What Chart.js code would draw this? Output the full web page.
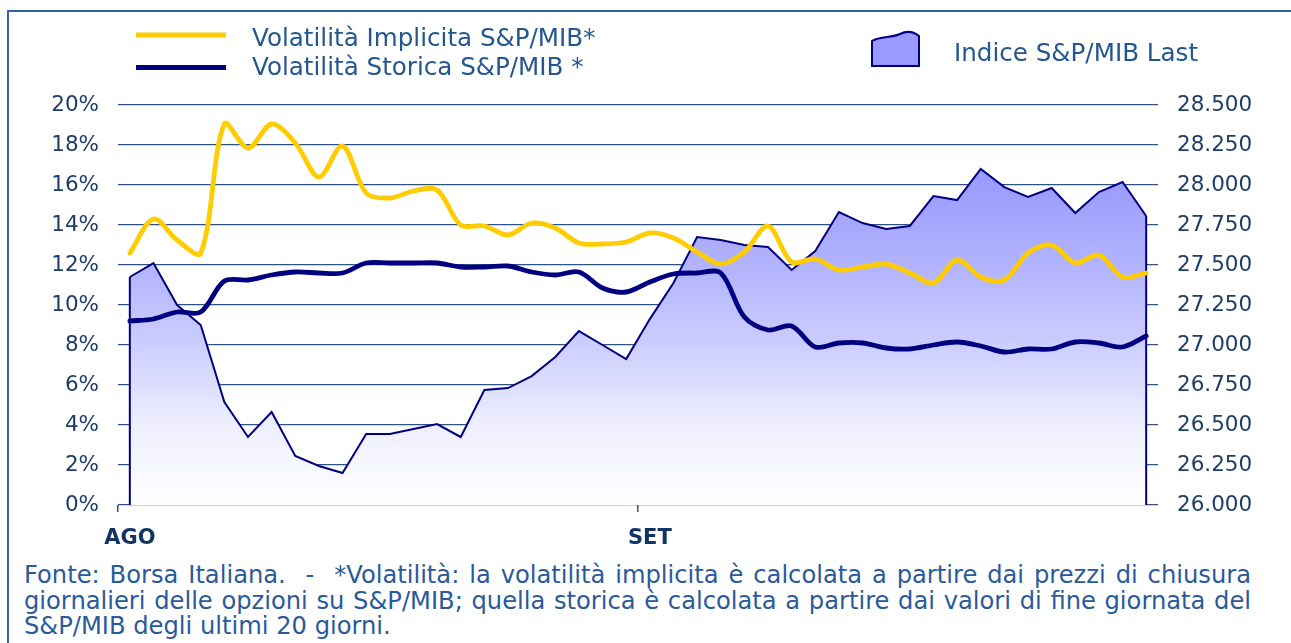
<!DOCTYPE html>
<html>
<head>
<meta charset="utf-8">
<script src="https://cdn.jsdelivr.net/npm/chart.js@4.4.1/dist/chart.umd.min.js"></script>
<style>
html,body{margin:0;padding:0;background:#fff;width:1291px;height:643px;overflow:hidden;}
#frame{position:absolute;left:7px;top:10px;width:1400px;height:700px;border-left:2px solid #2f64a6;border-top:2px solid #2f64a6;box-sizing:border-box;}
#wrap{position:absolute;left:0;top:0;width:1291px;height:560px;}
#note{position:absolute;left:24px;top:563px;width:1227px;font-family:'DejaVu Sans',sans-serif;font-size:24.2px;line-height:25.7px;color:#2a5a9a;}
#note .j{white-space:nowrap;text-align:justify;text-align-last:justify;}
#note .l{white-space:nowrap;text-align:left;}
</style>
</head>
<body>
<div id="frame"></div>
<div id="wrap"><canvas id="c" width="1291" height="560"></canvas></div>
<div id="note">
<div class="j">Fonte: Borsa Italiana.&nbsp; -&nbsp; *Volatilità: la volatilità implicita è calcolata a partire dai prezzi di chiusura</div>
<div class="j">giornalieri delle opzioni su S&amp;P/MIB; quella storica è calcolata a partire dai valori di fine giornata del</div>
<div class="l">S&amp;P/MIB degli ultimi 20 giorni.</div>
</div>
<script>
// ---- data ----
const categories = ['AGO','','','','','','','','','','','','','','','','','','','','','',
                    'SET','','','','','','','','','','','','','','','','','','','','',''];
const implicitVol = [12.6, 14.3, 13.25, 12.6, 19.05, 17.85, 19.05, 18.1, 16.4, 17.95, 15.6,
                     15.35, 15.7, 15.75, 14.0, 13.95, 13.5, 14.1, 13.85, 13.1, 13.05, 13.15,
                     13.6, 13.35, 12.65, 12.05, 12.65, 13.95, 12.15, 12.3, 11.75, 11.9, 12.05,
                     11.6, 11.1, 12.25, 11.4, 11.25, 12.6, 13.0, 12.1, 12.5, 11.4, 11.6];
const historicVol = [9.2, 9.3, 9.65, 9.65, 11.2, 11.25, 11.5, 11.65, 11.6, 11.6, 12.1,
                     12.1, 12.1, 12.1, 11.9, 11.9, 11.95, 11.65, 11.5, 11.65, 10.85, 10.65,
                     11.15, 11.55, 11.6, 11.6, 9.4, 8.75, 8.95, 7.9, 8.1, 8.1, 7.85,
                     7.8, 8.0, 8.15, 7.95, 7.65, 7.8, 7.8, 8.15, 8.1, 7.9, 8.45];
const indexLast = [27425, 27512, 27250, 27125, 26644, 26425, 26581, 26306, 26244, 26200, 26444,
                   26444, 26475, 26506, 26425, 26719, 26731, 26806, 26925, 27087, 27000, 26912,
                   27162, 27387, 27675, 27656, 27625, 27612, 27469, 27587, 27831, 27762, 27725,
                   27744, 27931, 27906, 28100, 27987, 27925, 27981, 27825, 27956, 28019, 27806];
const leftTickLabels = ['0%','2%','4%','6%','8%','10%','12%','14%','16%','18%','20%'];
const rightTickLabels = ['26.000','26.250','26.500','26.750','27.000','27.250','27.500','27.750','28.000','28.250','28.500'];
const seriesNames = ['Indice S&P/MIB Last','Volatilità Implicita S&P/MIB*','Volatilità Storica S&P/MIB *'];

// ---- styling ----
const FONT = "'DejaVu Sans', sans-serif";
const GRID = '#2d5485';
const TICK_COLOR = '#1d3d68';
const LEGEND_COLOR = '#24568f';
const YELLOW = '#ffcc00';
const NAVY = '#000080';

Chart.defaults.font.family = FONT;

const areaEdges = {
  id: 'areaEdges',
  afterDatasetDraw(chart, args) {
    if (args.index !== 0) return;
    const pts = chart.getDatasetMeta(0).data;
    const ys = chart.scales.y1;
    const yb = ys.getPixelForValue(ys.min);
    const ctx = chart.ctx;
    ctx.save();
    ctx.strokeStyle = NAVY; ctx.lineWidth = 2;
    ctx.beginPath();
    ctx.moveTo(pts[0].x, yb); ctx.lineTo(pts[0].x, pts[0].y);
    const last = pts[pts.length - 1];
    ctx.moveTo(last.x, last.y); ctx.lineTo(last.x, yb);
    ctx.stroke();
    ctx.restore();
  }
};

const customLegend = {
  id: 'customLegend',
  afterDraw(chart) {
    const ctx = chart.ctx;
    const ds = chart.data.datasets;
    ctx.save();
    ctx.font = "24.6px " + FONT;
    ctx.fillStyle = LEGEND_COLOR;
    ctx.textBaseline = 'alphabetic';
    ctx.textAlign = 'left';
    ctx.lineWidth = 5;
    ctx.strokeStyle = ds[1].borderColor;
    ctx.beginPath(); ctx.moveTo(136, 35); ctx.lineTo(226, 35); ctx.stroke();
    ctx.strokeStyle = ds[2].borderColor;
    ctx.beginPath(); ctx.moveTo(136, 67.5); ctx.lineTo(226, 67.5); ctx.stroke();
    ctx.fillText(ds[1].label, 252, 46);
    ctx.fillText(ds[2].label, 252, 75);
    ctx.beginPath();
    ctx.moveTo(872, 66);
    ctx.lineTo(872, 41);
    ctx.bezierCurveTo(880, 36, 892, 38, 900, 34);
    ctx.bezierCurveTo(908, 30, 914, 32, 919, 36);
    ctx.lineTo(919, 66);
    ctx.closePath();
    ctx.fillStyle = '#9999ff';
    ctx.fill();
    ctx.lineWidth = 2;
    ctx.strokeStyle = NAVY;
    ctx.stroke();
    ctx.fillStyle = LEGEND_COLOR;
    ctx.fillText(ds[0].label, 954, 61);
    ctx.restore();
  }
};

function areaGradient(context) {
  const chart = context.chart;
  const a = chart.chartArea;
  if (!a) return '#b0b0ff';
  const g = chart.ctx.createLinearGradient(0, a.top, 0, a.bottom);
  g.addColorStop(0, '#9293fb');
  g.addColorStop(0.2, '#9b9cfc');
  g.addColorStop(0.45, '#b8b9fd');
  g.addColorStop(0.6, '#ccceff');
  g.addColorStop(0.8, '#eeeefe');
  g.addColorStop(1, '#ffffff');
  return g;
}

new Chart(document.getElementById('c'), {
  type: 'line',
  data: {
    labels: categories,
    datasets: [
      {
        label: seriesNames[0], data: indexLast, yAxisID: 'y1', order: 3,
        borderColor: NAVY, borderWidth: 2, backgroundColor: areaGradient,
        fill: 'start', tension: 0, pointRadius: 0
      },
      {
        label: seriesNames[1], data: implicitVol, yAxisID: 'y', order: 1,
        borderColor: YELLOW, borderWidth: 4.8, fill: false, tension: 0.33,
        pointRadius: 0, borderCapStyle: 'round', borderJoinStyle: 'round'
      },
      {
        label: seriesNames[2], data: historicVol, yAxisID: 'y', order: 2,
        borderColor: NAVY, borderWidth: 4.8, fill: false, tension: 0.33,
        pointRadius: 0, borderCapStyle: 'round', borderJoinStyle: 'round'
      }
    ]
  },
  options: {
    responsive: false,
    animation: false,
    layout: { padding: { top: 105, left: 0, right: 0, bottom: 0 } },
    plugins: { legend: { display: false }, tooltip: { enabled: false } },
    scales: {
      x: {
        offset: true,
        afterFit(s) { s.height = 55; },
        grid: {
          offset: true, drawOnChartArea: false, drawTicks: true, tickLength: 7,
          color: (c) => (c.index === 0 || c.index === 22 || c.index === 44) ? GRID : 'rgba(0,0,0,0)',
          lineWidth: 1.5
        },
        border: { display: false },
        ticks: {
          autoSkip: false, maxRotation: 0, padding: 14,
          color: '#123463', font: { size: 21, weight: 'bold', family: FONT }
        }
      },
      y: {
        position: 'left', min: 0, max: 20,
        afterFit(s) { s.width = 118; },
        grid: { color: GRID, lineWidth: 1.3, drawTicks: false },
        border: { display: false },
        ticks: {
          stepSize: 2, padding: 19, color: TICK_COLOR, font: { size: 21.5, family: FONT },
          callback: (v, i) => leftTickLabels[i]
        }
      },
      y1: {
        position: 'right', min: 26000, max: 28500,
        afterFit(s) { s.width = 133; },
        grid: { display: false },
        border: { display: false },
        ticks: {
          stepSize: 250, padding: 11, color: TICK_COLOR, font: { size: 21.5, family: FONT },
          callback: (v, i) => rightTickLabels[i]
        }
      }
    }
  },
  plugins: [areaEdges, customLegend]
});
</script>
</body>
</html>
